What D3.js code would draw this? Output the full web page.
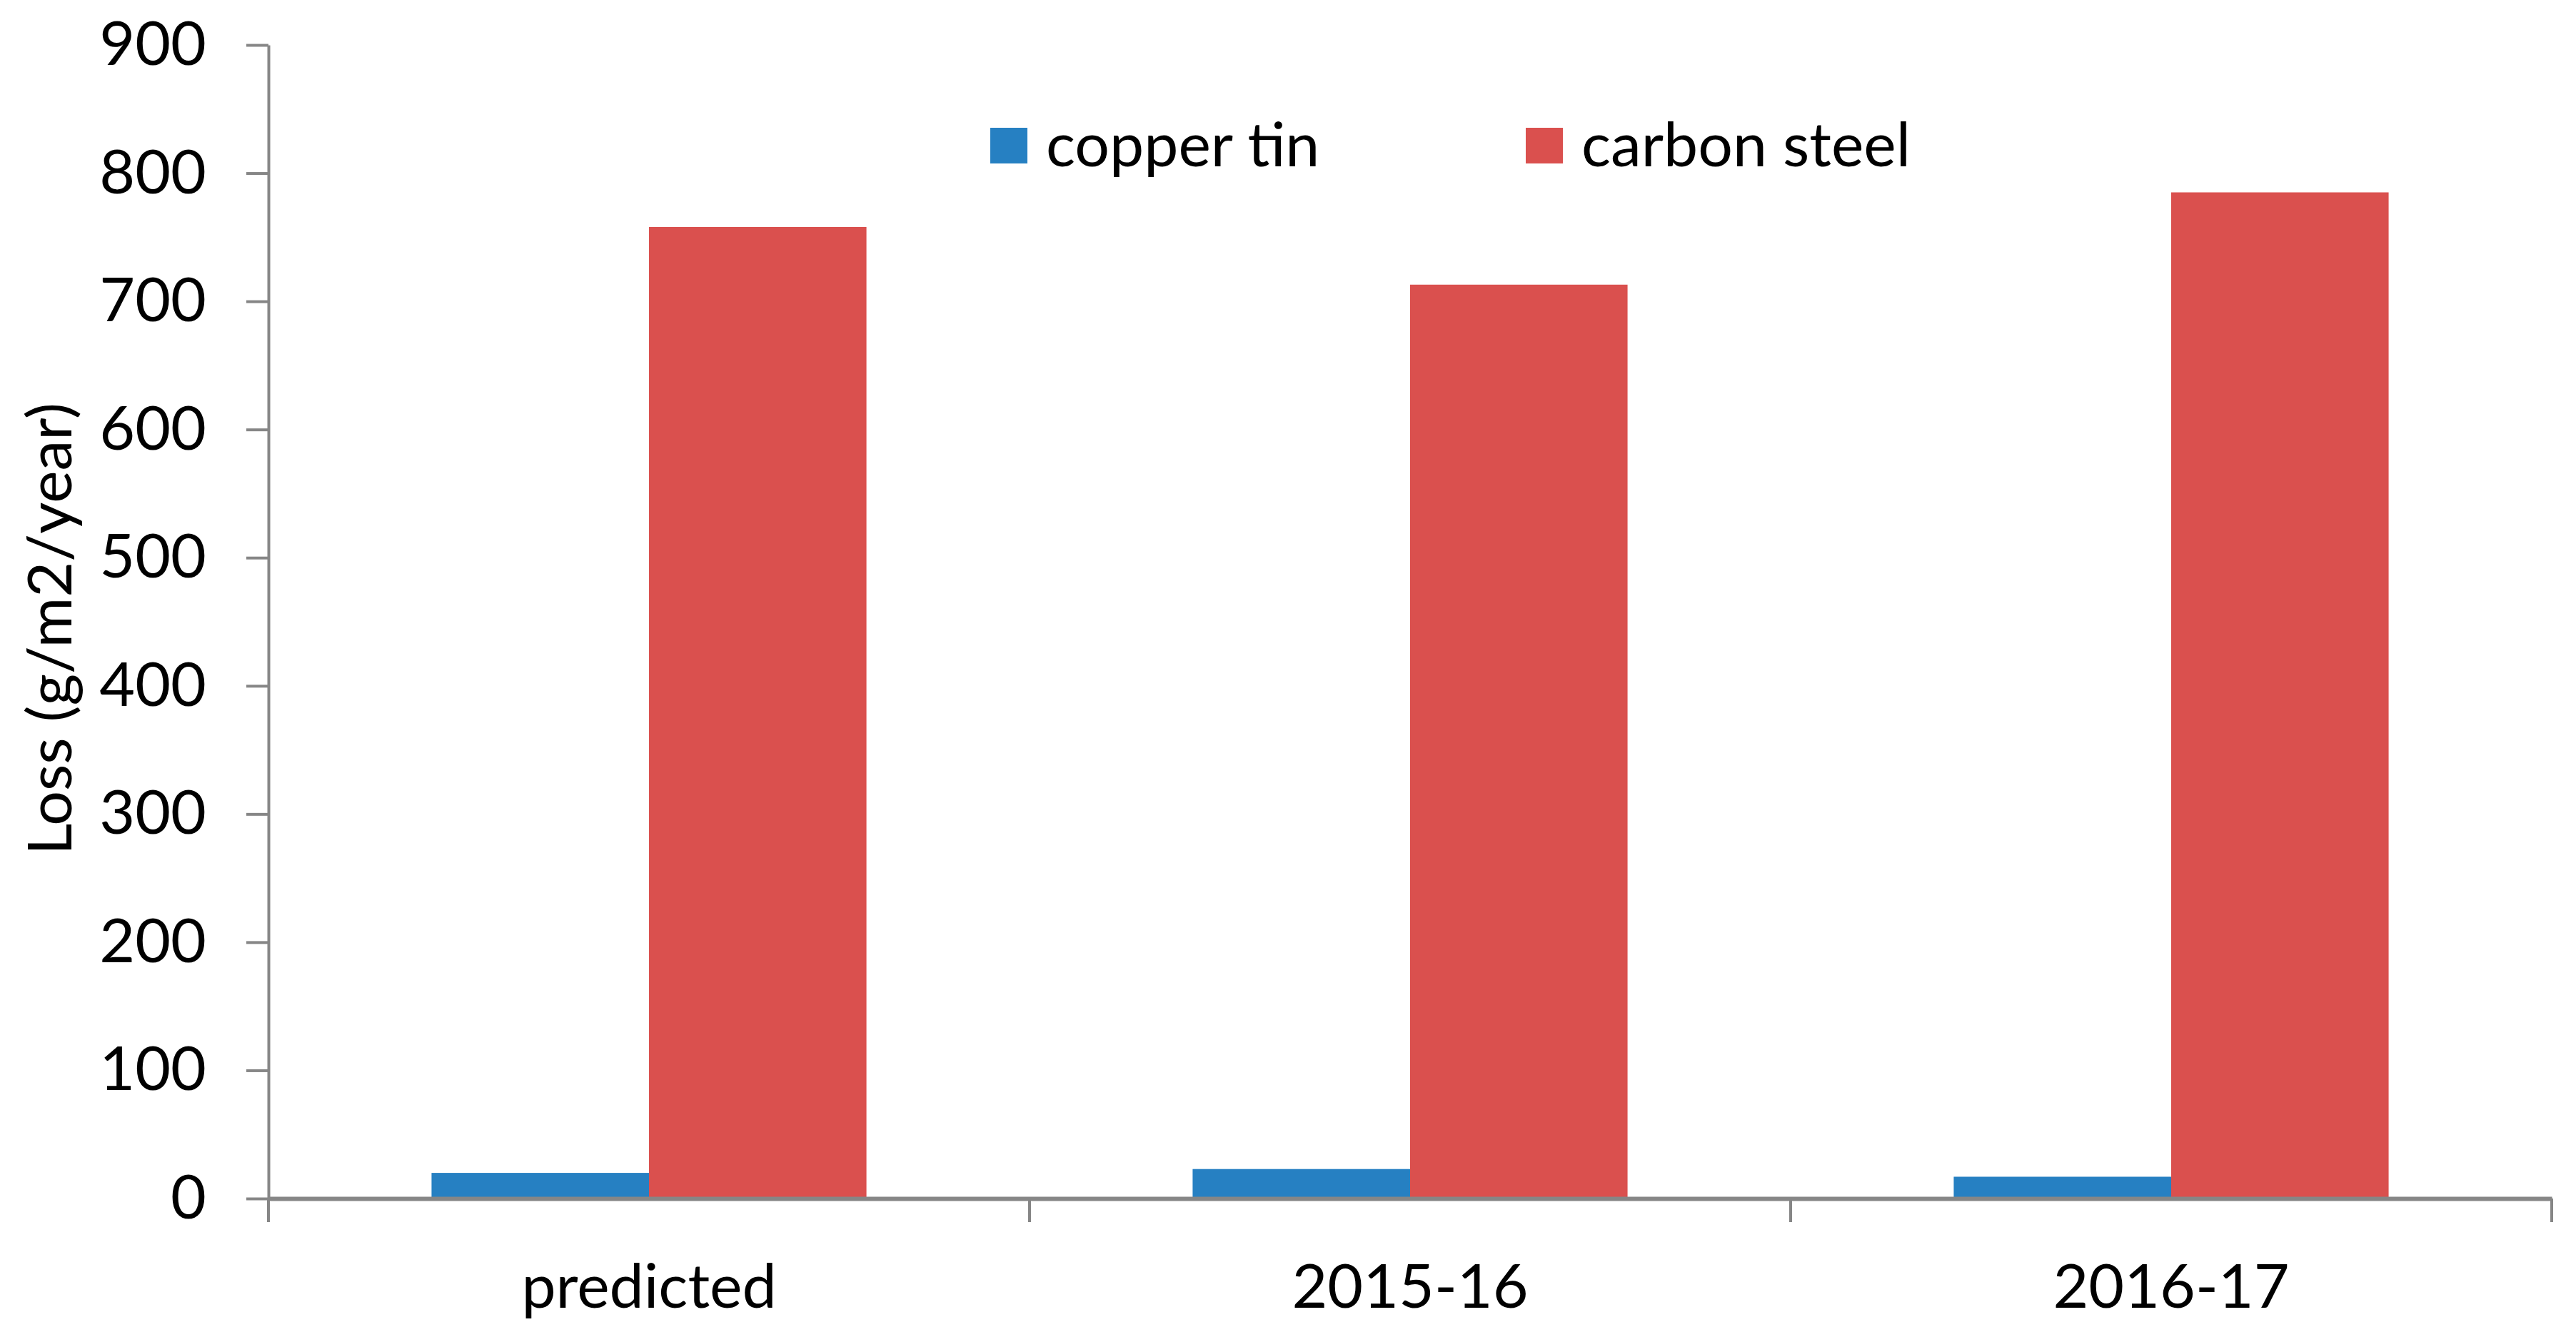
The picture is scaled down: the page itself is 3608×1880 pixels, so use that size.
<!DOCTYPE html>
<html>
<head>
<meta charset="utf-8">
<script src="https://cdn.jsdelivr.net/npm/d3@7/dist/d3.min.js"></script>
<style>
  html, body { margin: 0; padding: 0; background: #ffffff; }
  svg { display: block; }
  text { font-family: Lato, "Open Sans", sans-serif; fill: #000; }
</style>
</head>
<body>
<svg id="chart" width="3608" height="1880"></svg>
<script>
const categories = ["predicted", "2015-16", "2016-17"];
const seriesNames = ["copper tin", "carbon steel"];
const copperTin = [20, 23, 17];
const carbonSteel = [758, 713, 785];
const yTicks = [0, 100, 200, 300, 400, 500, 600, 700, 800, 900];
const yTitle = "Loss (g/m2/year)";
const colors = ["#2680c2", "#da504e"];

const svg = d3.select("#chart");
const W = 3608, H = 1880;
const m = { left: 376, right: W - 3574, top: 63, bottom: H - 1679 };
const FS = 86;

const x0 = d3.scaleBand().domain(categories).range([m.left, W - m.right]).paddingInner(0).paddingOuter(0);
const x1 = d3.scaleBand().domain(seriesNames).range([0, x0.bandwidth()]).paddingInner(0).paddingOuter(0.75);
const y = d3.scaleLinear().domain([0, 900]).range([H - m.bottom, m.top]);

const values = [copperTin, carbonSteel];

// bars
const groups = svg.append("g").selectAll("g")
  .data(categories).join("g")
  .attr("transform", c => `translate(${x0(c)},0)`);
groups.selectAll("rect")
  .data((c, i) => seriesNames.map((s, j) => ({ s, v: values[j][i], j })))
  .join("rect")
  .attr("x", d => x1(d.s))
  .attr("width", x1.bandwidth())
  .attr("y", d => y(d.v))
  .attr("height", d => y(0) - y(d.v))
  .attr("fill", d => colors[d.j]);

// y axis
const yAxis = svg.append("g")
  .attr("transform", `translate(${m.left},0)`)
  .call(d3.axisLeft(y).tickValues(yTicks).tickSizeInner(31).tickSizeOuter(0).tickPadding(56));
yAxis.select(".domain").attr("stroke", "#868686").attr("stroke-width", 4);
yAxis.selectAll(".tick line").attr("stroke", "#868686").attr("stroke-width", 4);
yAxis.selectAll(".tick text").attr("font-size", FS).attr("font-family", "Lato").attr("fill", "#000");

// x axis
const xAxis = svg.append("g")
  .attr("transform", `translate(0,${y(0)})`)
  .call(d3.axisBottom(x0).tickSizeInner(0).tickSizeOuter(0).tickPadding(92));
xAxis.select(".domain").attr("stroke", "#868686").attr("stroke-width", 6);
xAxis.selectAll(".tick line").remove();
xAxis.selectAll(".tick text").attr("font-size", FS).attr("font-family", "Lato").attr("fill", "#000");

// category boundary ticks
const bounds = categories.map(c => x0(c)).concat([x0(categories[categories.length - 1]) + x0.bandwidth()]);
svg.append("g").selectAll("line").data(bounds).join("line")
  .attr("x1", d => d).attr("x2", d => d)
  .attr("y1", y(0)).attr("y2", y(0) + 33)
  .attr("stroke", "#868686").attr("stroke-width", 4);

// y title
svg.append("text")
  .attr("transform", `translate(100,${(y(0) + y(900)) / 2 + 10}) rotate(-90)`)
  .attr("text-anchor", "middle")
  .attr("font-size", FS)
  .text(yTitle);

// legend
const legendX = [1387, 2137];
const leg = svg.append("g").selectAll("g").data(seriesNames).join("g")
  .attr("transform", (d, i) => `translate(${legendX[i]},179)`);
leg.append("rect").attr("width", 52).attr("height", 50).attr("fill", (d, i) => colors[i]);
leg.append("text").attr("x", 78).attr("y", 54).attr("font-size", FS).text(d => d);
</script>
</body>
</html>
